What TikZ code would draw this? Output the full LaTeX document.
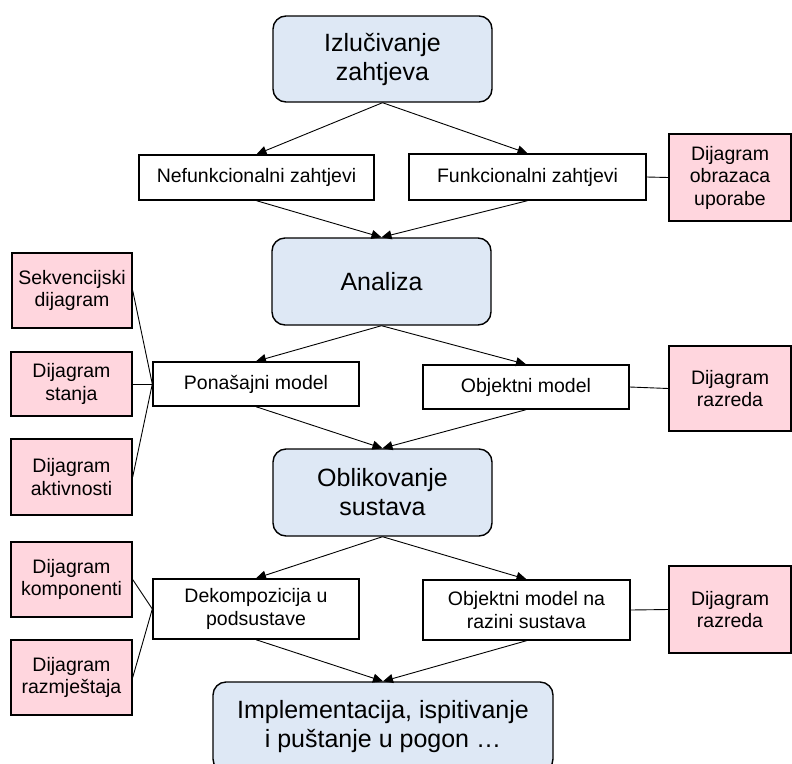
\documentclass[tikz,border=0pt]{standalone}
\usepackage{fontspec}
\setmainfont{Liberation Sans}
\usetikzlibrary{arrows.meta}
\definecolor{phasefill}{RGB}{222,232,245}
\definecolor{umlfill}{RGB}{255,214,222}
\begin{document}
\begin{tikzpicture}[x=1pt,y=-1pt,
  box/.style={draw=black,line width=1.4pt,align=center,inner sep=0pt,text=black},
  phase/.style={box,fill=phasefill,rounded corners=13pt,
    font=\fontsize{25}{29}\selectfont},
  model/.style={box,fill=white,font=\fontsize{19.5}{22.5}\selectfont},
  uml/.style={box,fill=umlfill,font=\fontsize{19.5}{22.5}\selectfont},
  flow/.style={line width=0.9pt,-{Triangle[length=10pt,width=9pt]}},
  link/.style={line width=0.9pt}]
\useasboundingbox (0,0) rectangle (792,763);
\clip (0,0) rectangle (792,763);
\fill[white] (0,0) rectangle (792,763);

% development phases
\node[phase,minimum width=219pt,minimum height=86pt] (izl) at (382.5,59) {Izlučivanje\\zahtjeva};
\node[phase,minimum width=219pt,minimum height=87pt] (ana) at (381.5,281.5) {Analiza};
\node[phase,minimum width=219pt,minimum height=87pt] (obl) at (382.5,492.5) {Oblikovanje\\sustava};
\node[phase,minimum width=340pt,minimum height=90pt] (imp) at (383,727) {Implementacija, ispitivanje\\i puštanje u pogon …};

% intermediate models
\node[model,minimum width=235pt,minimum height=45pt] (nef) at (256.5,177.5) {Nefunkcionalni zahtjevi};
\node[model,minimum width=237pt,minimum height=46pt] (fun) at (527.5,177) {Funkcionalni zahtjevi};
\node[model,minimum width=206pt,minimum height=44pt] (pon) at (256,384) {Ponašajni model};
\node[model,minimum width=206pt,minimum height=44pt] (obj) at (526,387) {Objektni model};
\node[model,minimum width=206pt,minimum height=60pt] (dek) at (256,609) {Dekompozicija u\\podsustave};
\node[model,minimum width=207pt,minimum height=60pt] (ons) at (526.5,610) {Objektni model na\\razini sustava};

% UML diagrams
\node[uml,minimum width=122pt,minimum height=87pt] (duc) at (730,177.5) {Dijagram\\obrazaca\\uporabe};
\node[uml,minimum width=120pt,minimum height=75pt] (seq) at (72,290.5) {Sekvencijski\\dijagram};
\node[uml,minimum width=121pt,minimum height=64pt] (sta) at (71.5,384) {Dijagram\\stanja};
\node[uml,minimum width=121pt,minimum height=76pt] (akt) at (71.5,477) {Dijagram\\aktivnosti};
\node[uml,minimum width=122pt,minimum height=85pt] (raz1) at (730,388.5) {Dijagram\\razreda};
\node[uml,minimum width=121pt,minimum height=75pt] (kom) at (71.5,579.5) {Dijagram\\komponenti};
\node[uml,minimum width=121pt,minimum height=75pt] (rzm) at (71.5,677.5) {Dijagram\\razmještaja};
\node[uml,minimum width=122pt,minimum height=87pt] (raz2) at (730,609.5) {Dijagram\\razreda};

% process flow
\draw[flow] (izl.south) -- (nef.north);
\draw[flow] (izl.south) -- (fun.north);
\draw[flow] (nef.south) -- (ana.north);
\draw[flow] (fun.south) -- (ana.north);
\draw[flow] (ana.south) -- (pon.north);
\draw[flow] (ana.south) -- (obj.north);
\draw[flow] (pon.south) -- (obl.north);
\draw[flow] (obj.south) -- (obl.north);
\draw[flow] (obl.south) -- (dek.north);
\draw[flow] (obl.south) -- (ons.north);
\draw[flow] (dek.south) -- (imp.north);
\draw[flow] (ons.south) -- (imp.north);

% models to diagrams
\draw[link] (fun.east) -- (duc.west);
\draw[link] (seq.east) -- (pon.west);
\draw[link] (sta.east) -- (pon.west);
\draw[link] (akt.east) -- (pon.west);
\draw[link] (obj.east) -- (raz1.west);
\draw[link] (kom.east) -- (dek.west);
\draw[link] (rzm.east) -- (dek.west);
\draw[link] (ons.east) -- (raz2.west);
\end{tikzpicture}
\end{document}
